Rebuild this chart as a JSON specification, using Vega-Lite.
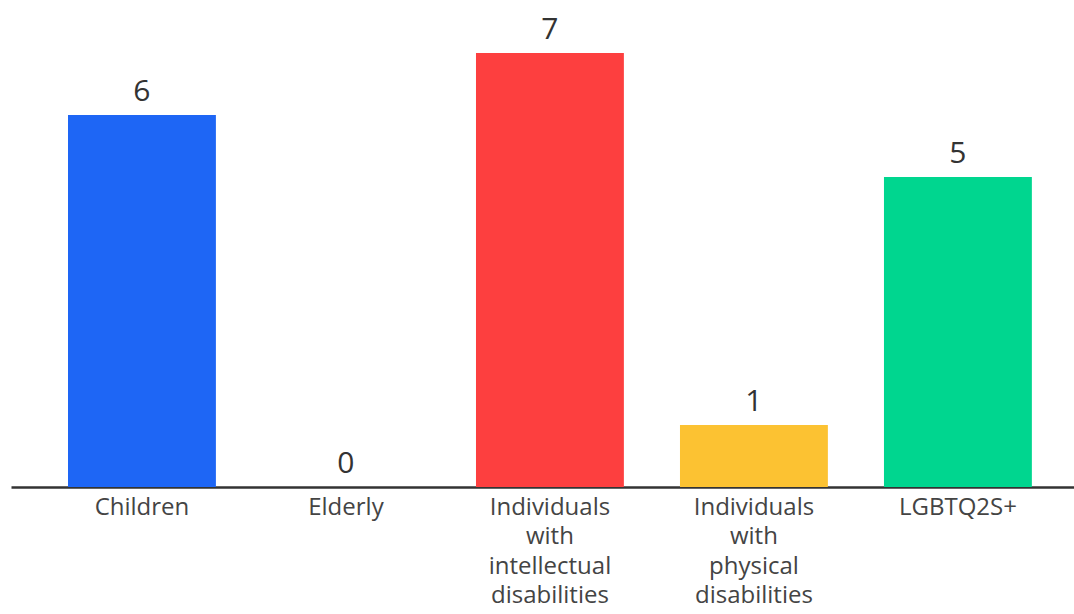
{
  "$schema": "https://vega.github.io/schema/vega-lite/v6.json",
  "autosize": {"type": "none"},
  "width": 1063,
  "height": 487,
  "padding": {"left": 11, "top": 0, "right": 0, "bottom": 127},
  "background": "white",
  "config": {
    "view": {"stroke": null},
    "font": "Open Sans"
  },
  "data": {
    "values": [
      {"group": "Children", "count": 6},
      {"group": "Elderly", "count": 0},
      {"group": "Individuals with intellectual disabilities", "count": 7},
      {"group": "Individuals with physical disabilities", "count": 1},
      {"group": "LGBTQ2S+", "count": 5}
    ]
  },
  "encoding": {
    "x": {
      "field": "group",
      "type": "nominal",
      "sort": null,
      "scale": {"paddingInner": 0.275, "paddingOuter": 0.243, "align": 0.575},
      "axis": {
        "title": null,
        "labelAngle": 0,
        "ticks": false,
        "domainColor": "#333333",
        "domainWidth": 2.5,
        "labelColor": "#444444",
        "labelFontSize": 24,
        "labelLineHeight": 29.5,
        "labelPadding": 8,
        "labelExpr": "split(datum.value, ' ')"
      }
    },
    "y": {
      "field": "count",
      "type": "quantitative",
      "scale": {"domain": [0, 7.855], "nice": false},
      "axis": null
    }
  },
  "layer": [
    {
      "mark": {"type": "bar"},
      "encoding": {
        "color": {
          "field": "group",
          "type": "nominal",
          "sort": null,
          "scale": {"range": ["#1E66F5", "#9E9E9E", "#FD3F3F", "#FCC232", "#00D68F"]},
          "legend": null
        }
      }
    },
    {
      "mark": {"type": "text", "baseline": "alphabetic", "dy": -14, "fontSize": 30, "color": "#333333"},
      "encoding": {
        "text": {"field": "count", "type": "quantitative"}
      }
    }
  ]
}
